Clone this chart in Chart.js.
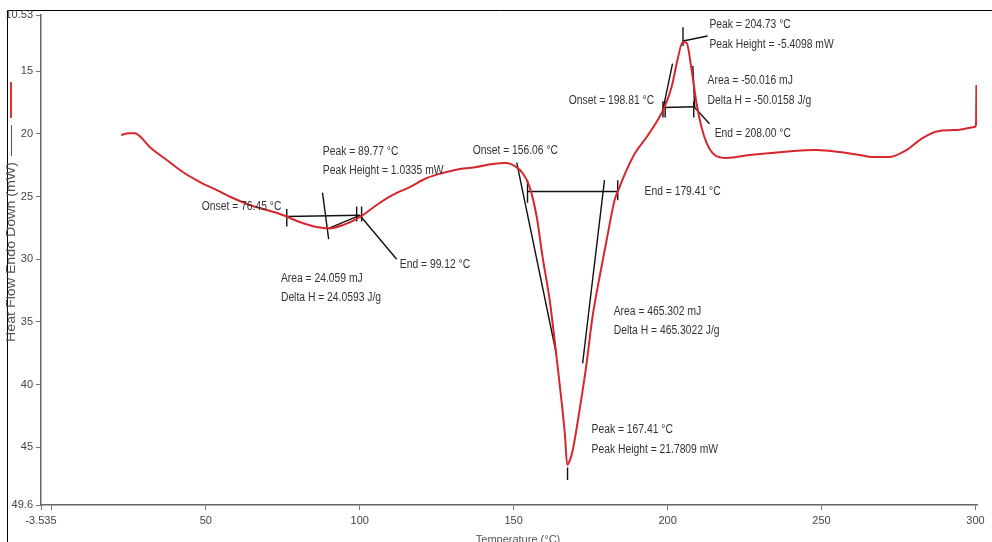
<!DOCTYPE html>
<html>
<head>
<meta charset="utf-8">
<script src="https://cdn.jsdelivr.net/npm/chart.js@4.4.1/dist/chart.umd.min.js"></script>
<style>
  html, body { margin: 0; padding: 0; background: #fff; }
  #wrap { position: relative; width: 992px; height: 542px; }
</style>
</head>
<body>
<div id="wrap"><canvas id="dsc"></canvas></div>
<script>
// DSC thermogram: temperature (°C) vs heat flow (mW), y axis reversed
const tempC = [22.5, 25, 27, 29, 31.8, 37.3, 42.5, 48.1, 53.6, 58.8, 64.3, 69.8, 75.0, 80.5, 86.0, 90.0,
  94.5, 100.0, 105.5, 110.7, 116.2, 121.8, 126.9, 132.5, 138.0, 143.2, 147.5, 150.5, 152.9, 155.2,
  157.5, 159.4, 161.7, 163.3, 164.9, 166.6, 167.4, 168.3, 169.2, 171.4, 173.7, 175.6, 177.9, 180.2,
  182.8, 184.4, 186.5, 189.3, 193.2, 196.8, 199.0, 201.3, 203.2, 204.9, 206.2, 207.8, 209.4, 211.0,
  212.7, 215.3, 219.2, 226.6, 237.3, 248.4, 255.8, 262.3, 266.6, 272.1, 277.6, 282.8, 288.3, 293.8,
  299.8, 300.2, 300.3];
const heatFlow = [20.1, 19.95, 19.95, 20.3, 21.06, 22.09, 23.05, 23.85, 24.49, 25.12, 25.68, 26.08, 26.48, 27.04, 27.44, 27.55,
  27.28, 26.64, 25.68, 24.88, 24.25, 23.53, 23.13, 22.81, 22.65, 22.41, 22.33, 22.6, 23.13, 24.25,
  26.64, 29.83, 33.26, 36.45, 39.88, 43.86, 46.4, 46.0, 45.22, 42.03, 38.28, 34.61, 31.42, 28.47,
  25.28, 24.25, 23.0, 21.6, 20.26, 18.9, 17.87, 16.27, 14.12, 12.68, 12.76, 14.92, 17.55, 19.46,
  20.74, 21.69, 21.93, 21.69, 21.45, 21.3, 21.45, 21.69, 21.85, 21.85, 21.3, 20.34, 19.78, 19.7,
  19.46, 19.2, 16.11];

const xTicks = [-3.535, 0, 50, 100, 150, 200, 250, 300];
const yTicks = [10.53, 15, 20, 25, 30, 35, 40, 45, 49.6];

// analysis construction lines [x1, y1, x2, y2]
const peak1Lines = [
  [76.3, 26.6, 100.0, 26.5], [89.9, 27.55, 100.0, 26.5], [76.3, 26.0, 76.3, 27.4],
  [87.9, 24.7, 89.9, 28.4], [99.0, 25.8, 99.0, 27.0], [100.6, 25.8, 100.6, 27.0],
  [100.0, 26.5, 112.0, 30.0]
];
const peak2Lines = [
  [154.5, 24.6, 183.8, 24.6], [151.0, 22.3, 163.9, 37.6], [179.5, 23.7, 172.4, 38.3],
  [154.5, 23.7, 154.5, 25.5], [183.8, 23.7, 183.8, 25.3], [167.5, 46.6, 167.5, 47.6]
];
const peak3Lines = [
  [198.5, 17.9, 208.8, 17.85], [198.5, 17.4, 198.5, 18.7], [199.2, 17.4, 199.2, 18.7],
  [208.5, 17.4, 208.5, 18.7], [198.3, 18.3, 201.6, 14.4], [208.2, 14.6, 208.8, 17.9],
  [205.0, 11.5, 205.0, 13.0], [205.0, 12.6, 213.0, 12.2], [208.8, 17.9, 213.6, 19.2]
];

// text notes [x, y, text] in data units
const notes = [
  [88.0, 21.45, 'Peak = 89.77 °C'], [88.0, 22.97, 'Peak Height = 1.0335 mW'],
  [48.7, 25.84, 'Onset = 76.45 °C'], [113.0, 30.47, 'End = 99.12 °C'],
  [74.4, 31.58, 'Area = 24.059 mJ'], [74.4, 33.1, 'Delta H = 24.0593 J/g'],
  [136.7, 21.37, 'Onset = 156.06 °C'], [192.5, 24.6, 'End = 179.41 °C'],
  [182.5, 34.2, 'Area = 465.302 mJ'], [182.5, 35.7, 'Delta H = 465.3022 J/g'],
  [175.3, 43.6, 'Peak = 167.41 °C'], [175.3, 45.2, 'Peak Height = 21.7809 mW'],
  [213.6, 11.33, 'Peak = 204.73 °C'], [213.6, 12.92, 'Peak Height = -5.4098 mW'],
  [213.0, 15.79, 'Area = -50.016 mJ'], [213.0, 17.39, 'Delta H = -50.0158 J/g'],
  [167.9, 17.39, 'Onset = 198.81 °C'], [215.3, 20.02, 'End = 208.00 °C']
];

const NARROW = "'Liberation Sans Narrow', 'Liberation Sans', Arial, sans-serif";

const segDatasets = [].concat(peak1Lines, peak2Lines, peak3Lines).map(s => ({
  data: [{ x: s[0], y: s[1] }, { x: s[2], y: s[3] }],
  borderColor: '#111',
  borderWidth: 1.4,
  pointRadius: 0,
  tension: 0
}));

const frame = {
  id: 'frame',
  beforeDraw(chart) {
    const c = chart.ctx;
    c.save();
    c.strokeStyle = '#000';
    c.lineWidth = 1;
    c.beginPath();
    c.moveTo(7.5, 542); c.lineTo(7.5, 10.5); c.lineTo(992, 10.5);
    c.stroke();
    c.restore();
  },
  afterDatasetsDraw(chart) {
    const c = chart.ctx;
    const xs = chart.scales.x, ys = chart.scales.y;
    c.save();
    c.fillStyle = '#333';
    c.font = '12px ' + NARROW;
    c.textBaseline = 'middle';
    notes.forEach(n => {
      c.save();
      c.translate(xs.getPixelForValue(n[0]), ys.getPixelForValue(n[1]));
      c.scale(0.86, 1);
      c.fillText(n[2], 0, 0);
      c.restore();
    });
    // y title with legend swatch
    c.save();
    c.translate(12, 252);
    c.rotate(-Math.PI / 2);
    c.font = "12px 'Liberation Sans', Arial, sans-serif";
    c.fillStyle = '#555';
    c.textAlign = 'center';
    const ytxt = 'Heat Flow Endo Down (mW)';
    const k = 180 / c.measureText(ytxt).width;
    c.scale(k, 1);
    c.fillText(ytxt, 0, 0);
    c.restore();
    c.strokeStyle = '#555';
    c.lineWidth = 1;
    c.beginPath(); c.moveTo(11.5, 156); c.lineTo(11.5, 125); c.stroke();
    c.strokeStyle = '#e0303a';
    c.lineWidth = 2;
    c.beginPath(); c.moveTo(11, 118); c.lineTo(11, 82); c.stroke();
    // x title
    c.font = '11px ' + NARROW;
    c.fillStyle = '#555';
    c.textAlign = 'center';
    c.fillText('Temperature (°C)', 518, 540);
    c.restore();
  }
};

new Chart(document.getElementById('dsc'), {
  type: 'line',
  data: {
    datasets: [{
      data: tempC.map((t, i) => ({ x: t, y: heatFlow[i] })),
      borderColor: '#d8262e',
      borderWidth: 2,
      pointRadius: 0,
      cubicInterpolationMode: 'monotone'
    }].concat(segDatasets)
  },
  options: {
    responsive: true,
    maintainAspectRatio: false,
    animation: false,
    layout: { padding: { left: 0, right: 15, top: 15, bottom: 0 } },
    plugins: { legend: { display: false }, tooltip: { enabled: false } },
    scales: {
      x: {
        type: 'linear',
        min: -3.535,
        max: 300.5,
        afterBuildTicks: a => { a.ticks = xTicks.map(v => ({ value: v })); },
        afterFit: a => { a.height = 37; },
        ticks: {
          autoSkip: false,
          maxRotation: 0,
          color: '#444',
          font: { size: 11, family: NARROW },
          padding: 4,
          callback: v => (v === 0 ? '' : String(v))
        },
        grid: { drawOnChartArea: false, tickLength: 5, color: '#777' },
        border: { color: '#666', width: 1.5 }
      },
      y: {
        type: 'linear',
        reverse: true,
        min: 10.53,
        max: 49.6,
        afterBuildTicks: a => { a.ticks = yTicks.map(v => ({ value: v })); },
        afterFit: a => { a.width = 41; },
        ticks: {
          autoSkip: false,
          color: '#444',
          font: { size: 11, family: NARROW },
          padding: 3,
          callback: v => String(v)
        },
        grid: { drawOnChartArea: false, tickLength: 5, color: '#777' },
        border: { color: '#666', width: 1.5 }
      }
    }
  },
  plugins: [frame]
});
</script>
</body>
</html>
